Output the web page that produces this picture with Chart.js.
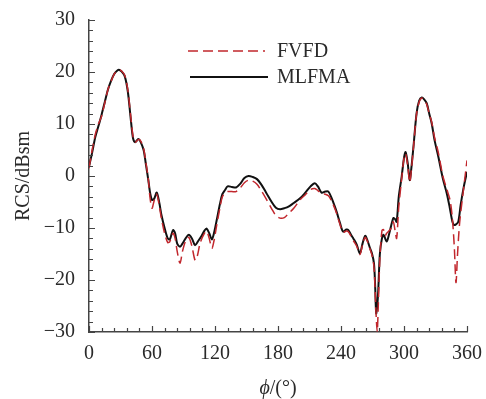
<!DOCTYPE html>
<html>
<head>
<meta charset="utf-8">
<script src="https://cdn.jsdelivr.net/npm/chart.js@4.4.1/dist/chart.umd.min.js"></script>
<style>
  html, body { margin: 0; padding: 0; background: #fff; }
  #wrap { width: 486px; height: 399px; }
</style>
</head>
<body>
<div id="wrap"><canvas id="rcs_chart" width="486" height="399"></canvas></div>
<script>
// azimuth angle (deg) and RCS values (dBsm)
const phi = [0, 3, 6, 9, 12, 15, 18, 21, 24, 27, 29, 31, 34, 37, 40, 42, 44, 47, 49, 52, 54, 56.5, 58, 60, 62, 64.5, 67, 69, 72, 75, 77, 80, 82, 84, 86.7, 89, 92, 95, 98, 101, 104, 107, 110, 112, 114.5, 117, 119, 121.6, 124.8, 127, 129.5, 132, 136, 140, 144, 148, 152, 156, 160, 164, 169, 174, 178, 182, 186, 190, 195, 201, 206, 211, 215, 218, 221.5, 225, 228, 231, 234, 236, 239, 242, 245, 247, 249.5, 252, 255, 258, 260.5, 263, 265, 267.5, 269.5, 271.4, 272.5, 273.5, 274.5, 275.5, 277, 279, 280.5, 283.5, 286, 289.8, 291.5, 293, 295, 297.8, 300, 301.5, 303.5, 305.5, 307, 309, 312, 314.5, 317, 319, 321.6, 324, 326.4, 329, 332.7, 337, 340.7, 343.5, 346, 347.5, 349.5, 351.7, 354, 357, 360];
const mlfma = [1.8, 4.5, 7.5, 9.6, 11.8, 14.2, 16.6, 18.3, 19.6, 20.3, 20.4, 20.1, 19.2, 16.2, 10.5, 7.2, 6.5, 7.1, 6.6, 5.0, 2.5, -0.8, -3.0, -4.6, -4.4, -3.2, -5.2, -7.5, -10, -12, -12.2, -10.4, -11, -13, -13.6, -13, -12, -11.3, -12, -13.3, -12.5, -11.6, -10.5, -10.1, -11, -12.2, -11, -8.5, -5.3, -3.5, -2.7, -2.0, -2.1, -2.2, -1.5, -0.4, 0.0, -0.2, -0.6, -1.6, -3.3, -5, -6.1, -6.4, -6.2, -5.9, -5.2, -4.3, -3.2, -2.0, -1.4, -2.0, -3.2, -3.0, -3.0, -4.2, -5.8, -7, -9, -10.7, -10.3, -10.4, -11.3, -12.1, -13.2, -14.9, -13, -11.5, -12.3, -13.8, -14.9, -16.8, -21, -26.4, -25, -21.9, -15, -12, -11.3, -12.6, -11, -8.1, -8.3, -8.8, -4, -0.1, 3.5, 4.6, 2.5, -0.8, 1.5, 5.6, 12.1, 14.5, 15.1, 14.8, 14, 12, 10.1, 7, 3.7, -0.5, -3.3, -6, -8.7, -9.4, -9.3, -8.8, -5.5, -2, 0.8];

const phiFvfd = [0, 3, 6, 9, 12, 15, 18, 21, 24, 27, 29, 31, 34, 37, 40, 42, 44, 47, 49, 52, 54, 56.5, 58, 60, 62, 64.5, 67, 69, 72, 75, 77, 80, 82, 84, 86.7, 89, 92, 95, 98, 101, 103, 106, 110, 112, 114.5, 117, 119, 121.6, 124.8, 127, 129.5, 132, 136, 140, 144, 148, 152, 156, 160, 164, 169, 174, 178, 182, 186, 190, 195, 201, 206, 211, 215, 218, 221.5, 225, 228, 231, 234, 236, 239, 242, 245, 247, 249.5, 252, 255, 258, 260.5, 263, 265, 267.5, 269.5, 271.4, 272.5, 273.5, 274.5, 275.5, 277, 279, 280.5, 282, 283.5, 286, 288, 289.8, 291.5, 293, 295, 297.8, 300, 301.5, 303.5, 305.5, 307, 309, 312, 314.5, 317, 319, 321.6, 324, 326.4, 329, 332.7, 337, 340.7, 343.8, 346, 348, 349.5, 351, 353, 356.6, 360];
const fvfd = [1.5, 5.0, 8.0, 10.0, 11.5, 14.0, 16.6, 18.2, 19.6, 20.2, 20.4, 20.2, 19.4, 16.5, 11, 7.5, 6.5, 7.0, 6.8, 5.3, 2.8, -0.6, -4, -6.2, -4.8, -3.5, -5.8, -8.2, -11, -12.8, -12.6, -11, -12, -14.5, -16.8, -14.5, -12.5, -11.8, -13.5, -16.2, -15.5, -12.8, -11, -10.6, -12, -13.9, -12.5, -9.5, -6, -4, -3.3, -3, -3, -3, -2.3, -1.3, -0.8, -1.0, -1.6, -2.8, -4.5, -6.3, -7.6, -8.1, -8.0, -7.2, -6.2, -4.6, -3.6, -2.6, -2.4, -2.8, -3.4, -3.5, -3.8, -4.8, -6.2, -7.3, -9.3, -10.8, -10.6, -10.7, -11.6, -12.5, -13.5, -15.1, -13.2, -11.8, -12.5, -14, -15.2, -17.5, -22, -27, -30, -25, -16, -10.5, -10.3, -11.5, -11, -10.5, -10, -8.8, -10.5, -12, -6, -0.5, 3.5, 4.3, 2, -1.2, 1.2, 5.5, 12, 14.3, 15, 14.6, 13.8, 12, 10.3, 7.5, 4.5, 0, -2.5, -4.6, -8, -14, -20.5, -15, -9, -2.7, 3];

const xTicks = [0, 60, 120, 180, 240, 300, 360];
const yTicks = [-30, -20, -10, 0, 10, 20, 30];
const seriesNames = ["FVFD", "MLFMA"];

const serif = "'Liberation Serif', 'DejaVu Serif', serif";
const axisColor = "#444";
const textColor = "#2a2a2a";

function toPoints(xs, ys) {
    return xs.map((x, i) => ({ x: x, y: ys[i] }));
}

// inward tick marks (major + minor) on the left and bottom axes
const inwardTicks = {
    id: "inwardTicks",
    afterDraw(chart) {
        const ctx = chart.ctx;
        const xs = chart.scales.x;
        const ys = chart.scales.y;
        ctx.save();
        ctx.strokeStyle = axisColor;
        ctx.lineWidth = 1.2;
        ctx.beginPath();
        for (let v = xTicks[0]; v <= xTicks[xTicks.length - 1]; v += 12) {
            const px = Math.round(xs.getPixelForValue(v)) + 0.5;
            const len = v % 60 === 0 ? 6 : 4;
            ctx.moveTo(px, ys.bottom);
            ctx.lineTo(px, ys.bottom - len);
        }
        for (let v = yTicks[0]; v <= yTicks[yTicks.length - 1]; v += 2) {
            const py = Math.round(ys.getPixelForValue(v)) + 0.5;
            const len = v % 10 === 0 ? 6 : 4;
            ctx.moveTo(xs.left, py);
            ctx.lineTo(xs.left + len, py);
        }
        ctx.stroke();
        ctx.restore();
    },
};

// legend inside the plot, plus the x title with an italic phi
const annotations = {
    id: "annotations",
    afterDraw(chart) {
        const ctx = chart.ctx;
        ctx.save();
        ctx.font = "20px " + serif;
        ctx.textBaseline = "middle";
        const rows = [
            { y: 51, x0: 188, x1: 265 },
            { y: 77, x0: 190, x1: 268 },
        ];
        chart.data.datasets.forEach((ds, i) => {
            const r = rows[i];
            ctx.strokeStyle = ds.borderColor;
            ctx.lineWidth = ds.borderWidth;
            ctx.setLineDash(ds.borderDash || []);
            ctx.beginPath();
            ctx.moveTo(r.x0, r.y);
            ctx.lineTo(r.x1, r.y);
            ctx.stroke();
            ctx.setLineDash([]);
            ctx.fillStyle = textColor;
            ctx.fillText(ds.label, 277, r.y + 1);
        });

        // x axis title: "ϕ/(°)"
        const cx = (chart.chartArea.left + chart.chartArea.right) / 2;
        const ty = 389;
        ctx.font = "italic 20px " + serif;
        const w1 = ctx.measureText("ϕ").width;
        ctx.font = "20px " + serif;
        const w2 = ctx.measureText("/(°)").width;
        let x = cx - (w1 + w2) / 2;
        ctx.font = "italic 20px " + serif;
        ctx.fillText("ϕ", x, ty);
        ctx.font = "20px " + serif;
        ctx.fillText("/(°)", x + w1, ty);
        ctx.restore();
    },
};

const minus = (v) => String(v).replace("-", "\u2212");

new Chart(document.getElementById("rcs_chart"), {
    type: "line",
    data: {
        datasets: [
            {
                label: seriesNames[0],
                data: toPoints(phiFvfd, fvfd),
                borderColor: "#c1272d",
                borderWidth: 1.5,
                borderDash: [10, 5],
                pointRadius: 0,
                tension: 0.3,
            },
            {
                label: seriesNames[1],
                data: toPoints(phi, mlfma),
                borderColor: "#111",
                borderWidth: 2,
                pointRadius: 0,
                tension: 0.3,
            },
        ],
    },
    options: {
        responsive: false,
        animation: false,
        layout: { padding: { top: 20, right: 19, left: 0, bottom: 0 } },
        plugins: {
            legend: { display: false },
            tooltip: { enabled: false },
        },
        scales: {
            x: {
                type: "linear",
                min: 0,
                max: 360,
                afterBuildTicks: (s) => { s.ticks = xTicks.map((v) => ({ value: v })); },
                afterFit: (s) => { s.height = 67; s.paddingLeft = 0; s.paddingRight = 0; },
                grid: { display: false, drawTicks: false },
                border: { display: true, color: axisColor, width: 1.5 },
                ticks: { color: textColor, padding: 10, maxRotation: 0, font: { family: serif, size: 20 } },
            },
            y: {
                min: -30,
                max: 30,
                afterBuildTicks: (s) => { s.ticks = yTicks.map((v) => ({ value: v })); },
                afterFit: (s) => { s.width = 89; s.paddingTop = 0; s.paddingBottom = 0; },
                grid: { display: false, drawTicks: false },
                border: { display: true, color: axisColor, width: 1.5 },
                ticks: { color: textColor, padding: 14, font: { family: serif, size: 20 }, callback: minus },
                title: { display: true, text: "RCS/dBsm", color: textColor, padding: { top: 12, bottom: 0 }, font: { family: serif, size: 20 } },
            },
        },
    },
    plugins: [inwardTicks, annotations],
});
</script>
</body>
</html>
